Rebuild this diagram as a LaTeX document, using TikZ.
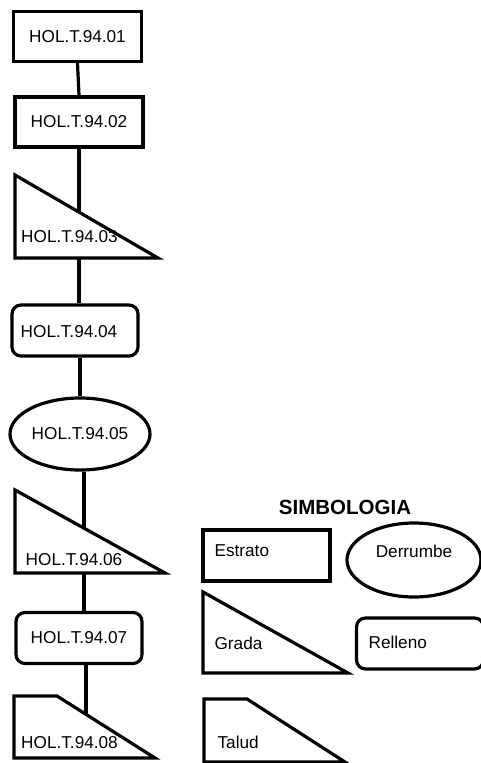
\documentclass[tikz,border=0pt]{standalone}
\usepackage{fontspec}
\setmainfont{Liberation Sans}
\usetikzlibrary{shapes.geometric,positioning}

\begin{document}
\begin{tikzpicture}[x=1pt,y=1pt,line width=3.2pt,
  estrato/.style={draw=black,rectangle,minimum width=128pt,minimum height=50pt},
  relleno/.style={draw=black,rectangle,rounded corners=9pt,minimum width=126pt,minimum height=51pt},
  derrumbe/.style={draw=black,ellipse,minimum width=140pt,minimum height=72pt},
  txt/.style={inner sep=0pt}]
\tikzstyle{every node}+=[inner sep=0pt,font=\fontsize{17.2}{19}\selectfont]
\useasboundingbox (0,0) rectangle (481,-763);
% columna
\node [estrato] (h01) at (77.5,-36.5) {HOL.T.94.01};
\node [estrato] (h02) at (79,-122) {HOL.T.94.02};
\draw [black] (15,-175) -- (15,-258) -- (158,-258) -- cycle;
\node [txt] (h03) at (69.5,-237) {HOL.T.94.03};
\coordinate (h03top) at (79,-212);
\coordinate (h03bot) at (79,-258);
\node [relleno] (h04) at (75,-330.5) {};
\node [txt] (h04t) at (69,-332) {HOL.T.94.04};
\node [derrumbe] (h05) at (80,-434) {HOL.T.94.05};
\draw [black] (15,-490) -- (15,-573) -- (165,-573) -- cycle;
\node [txt] (h06) at (74,-560) {HOL.T.94.06};
\coordinate (h06top) at (84,-528);
\coordinate (h06bot) at (84,-573);
\node [relleno] (h07) at (79,-638) {HOL.T.94.07};
\draw [black] (14,-696) -- (57,-696) -- (155,-758) -- (14,-758) -- cycle;
\node [txt] (h08) at (69.5,-743) {HOL.T.94.08};
\coordinate (h08top) at (86,-714);
% uniones
\draw (h01.south) -- (h02.north);
\draw (h02.south) -- (h03top);
\draw (h03bot) -- (h03bot |- h04.north);
\draw (h04.south -| h05.north) -- (h05.north);
\draw (h05.south -| h06top) -- (h06top);
\draw (h06bot) -- (h06bot |- h07.north);
\draw (h07.south -| h08top) -- (h08top);
% simbologia
\node [font=\bfseries\fontsize{20.5}{22}\selectfont] (simb) at (345,-507) {SIMBOLOGIA};
\node [estrato,minimum width=127pt,minimum height=51pt] (sEstrato) at (266.5,-555.5) {};
\node [txt,anchor=west] (tEstrato) at (213,-551) {Estrato};
\node [derrumbe,minimum width=134pt,minimum height=74pt] (sDerrumbe) at (414,-560) {};
\node [txt] (tDerrumbe) at (414,-551) {Derrumbe};
\draw [black] (203,-592) -- (203,-673) -- (348,-673) -- cycle;
\node [txt,anchor=west] (tGrada) at (213,-643) {Grada};
\node [relleno,minimum width=127pt] (sRelleno) at (420,-643.5) {};
\node [txt,anchor=west] (tRelleno) at (367,-642) {Relleno};
\draw [black] (204,-699) -- (247,-699) -- (345,-762) -- (204,-762) -- cycle;
\node [txt,anchor=west] (tTalud) at (216,-742) {Talud};
\end{tikzpicture}
\end{document}
